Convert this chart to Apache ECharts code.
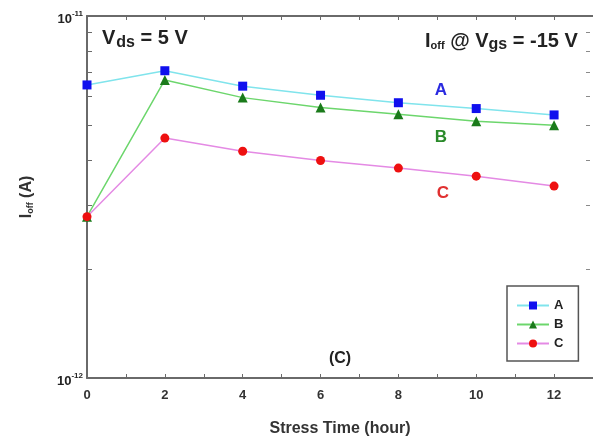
<!DOCTYPE html>
<html><head><meta charset="utf-8">
<script src="https://cdn.jsdelivr.net/npm/echarts@6/dist/echarts.min.js"></script>
<style>html,body{margin:0;padding:0;background:#fff}#c{width:593px;height:442px}</style>
</head><body><div id="c"></div>
<script>
const hours = [0, 2, 4, 6, 8, 10, 12];
const seriesA = [6.45e-12, 7.06e-12, 6.40e-12, 6.04e-12, 5.76e-12, 5.55e-12, 5.33e-12];
const seriesB = [2.79e-12, 6.66e-12, 5.95e-12, 5.59e-12, 5.35e-12, 5.12e-12, 4.99e-12];
const seriesC = [2.79e-12, 4.60e-12, 4.23e-12, 3.99e-12, 3.80e-12, 3.61e-12, 3.39e-12];
const xTickLabels = [0, 2, 4, 6, 8, 10, 12];
const yTickLabels = [1e-12, 1e-11];
const yMinorTicks = [2e-12, 3e-12, 4e-12, 5e-12, 6e-12, 7e-12, 8e-12, 9e-12];

const FONT = 'Liberation Sans, Arial, sans-serif';
const chart = echarts.init(document.getElementById('c'));
const pair = arr => hours.map((h, i) => [h, arr[i]]);
const axisLineStyle = {color: '#6a6a6a', width: 2};
const logBase = {type: 'log', logBase: 10, min: 1e-12, max: 1e-11, splitLine: {show: false}};

function mk(name, data, lineColor, markColor, symbol, size) {
  return {
    name, type: 'line', data: pair(data), symbol, symbolSize: size, yAxisIndex: 0,
    lineStyle: {color: lineColor, width: 1.5},
    itemStyle: {color: markColor},
    emphasis: {disabled: true}, animation: false, z: 3
  };
}

chart.setOption({
  animation: false,
  textStyle: {fontFamily: FONT},
  grid: {left: 87, top: 16, width: 508, height: 368},
  legend: {
    orient: 'vertical', left: 507, top: 286,
    data: ['A', 'B', 'C'],
    itemWidth: 32, itemHeight: 10, itemGap: 6,
    padding: [13, 15, 11, 9],
    backgroundColor: '#fff', borderColor: '#555', borderWidth: 1.5,
    textStyle: {fontFamily: FONT, fontWeight: 'bold', fontSize: 13, color: '#222'},
    selectedMode: false
  },
  xAxis: [{
    type: 'value', min: 0, max: 13, interval: 1,
    axisLine: {lineStyle: axisLineStyle},
    axisTick: {inside: true, length: 4, lineStyle: {color: '#6a6a6a'}},
    axisLabel: {customValues: xTickLabels, fontWeight: 'bold', fontSize: 13, color: '#333', margin: 11, fontFamily: FONT},
    splitLine: {show: false},
    name: 'Stress Time (hour)', nameLocation: 'middle', nameGap: 43,
    nameTextStyle: {fontWeight: 'bold', fontSize: 16, color: '#333', fontFamily: FONT}
  }, {
    type: 'value', min: 0, max: 13, interval: 1, position: 'top',
    axisLine: {lineStyle: axisLineStyle},
    axisTick: {inside: true, length: 4, lineStyle: {color: '#6a6a6a'}},
    axisLabel: {show: false}, splitLine: {show: false}
  }],
  yAxis: [Object.assign({}, logBase, {
    position: 'left',
    axisLine: {show: true, lineStyle: axisLineStyle},
    axisTick: {show: false},
    axisLabel: {
      customValues: yTickLabels, margin: 4, color: '#222', fontFamily: FONT,
      formatter: v => '{b|10}{s|' + Math.round(Math.log10(v)) + '}',
      rich: {
        b: {fontWeight: 'bold', fontSize: 13, color: '#222', fontFamily: FONT, padding: [6, 0, 0, 0]},
        s: {fontWeight: 'bold', fontSize: 8, color: '#222', fontFamily: FONT, padding: [0, 0, 4, 0]}
      }
    },
    name: '{m|I}{s|off}{m| (A)}', nameLocation: 'middle', nameRotate: 90, nameGap: 52,
    nameTextStyle: {
      rich: {
        m: {fontWeight: 'bold', fontSize: 16, color: '#333', fontFamily: FONT},
        s: {fontWeight: 'bold', fontSize: 9, color: '#333', fontFamily: FONT, padding: [8, 0, 0, 0]}
      }
    }
  }), Object.assign({}, logBase, {
    position: 'left', offset: -5,
    axisLine: {show: false},
    axisTick: {show: true, inside: false, length: 5, customValues: yMinorTicks, lineStyle: {color: '#6a6a6a'}},
    axisLabel: {show: false}
  }), Object.assign({}, logBase, {
    position: 'right', offset: -7,
    axisLine: {show: false},
    axisTick: {show: true, inside: false, length: 4, customValues: yMinorTicks, lineStyle: {color: '#8a8a8a'}},
    axisLabel: {show: false}
  })],
  series: [
    mk('A', seriesA, '#80e4ec', '#1010ee', 'rect', 9),
    mk('B', seriesB, '#6cd66c', '#1a7a1a', 'triangle', 10),
    mk('C', seriesC, '#e48ae4', '#ee1010', 'circle', 9)
  ],
  graphic: [
    {type: 'text', left: 102, top: 28, style: {
      text: '{m|V}{s|ds}{m| = 5 V}', fill: '#222',
      rich: {m: {fontSize: 20, fontWeight: 'bold', fontFamily: FONT, fill: '#222'}, s: {fontSize: 16, fontWeight: 'bold', fontFamily: FONT, fill: '#222', padding: [9, 0, 0, 1]}}
    }},
    {type: 'text', left: 425, top: 31, style: {
      text: '{m|I}{s|off}{m| @ V}{s2|gs}{m| = -15 V}', fill: '#222',
      rich: {m: {fontSize: 20, fontWeight: 'bold', fontFamily: FONT, fill: '#222'}, s: {fontSize: 11, fontWeight: 'bold', fontFamily: FONT, fill: '#222', padding: [9, 0, 0, 0]}, s2: {fontSize: 16, fontWeight: 'bold', fontFamily: FONT, fill: '#222', padding: [7, 0, 0, 0]}}
    }},
    {type: 'text', x: 441, y: 90, style: {text: 'A', fill: '#2a2ae0', font: 'bold 17px ' + FONT, align: 'center', verticalAlign: 'middle'}},
    {type: 'text', x: 441, y: 137, style: {text: 'B', fill: '#2a8a2a', font: 'bold 17px ' + FONT, align: 'center', verticalAlign: 'middle'}},
    {type: 'text', x: 443, y: 193, style: {text: 'C', fill: '#e03030', font: 'bold 17px ' + FONT, align: 'center', verticalAlign: 'middle'}},
    {type: 'text', x: 340, y: 359, style: {text: '(C)', fill: '#222', font: 'bold 16px ' + FONT, align: 'center', verticalAlign: 'middle'}}
  ]
});
</script></body></html>
